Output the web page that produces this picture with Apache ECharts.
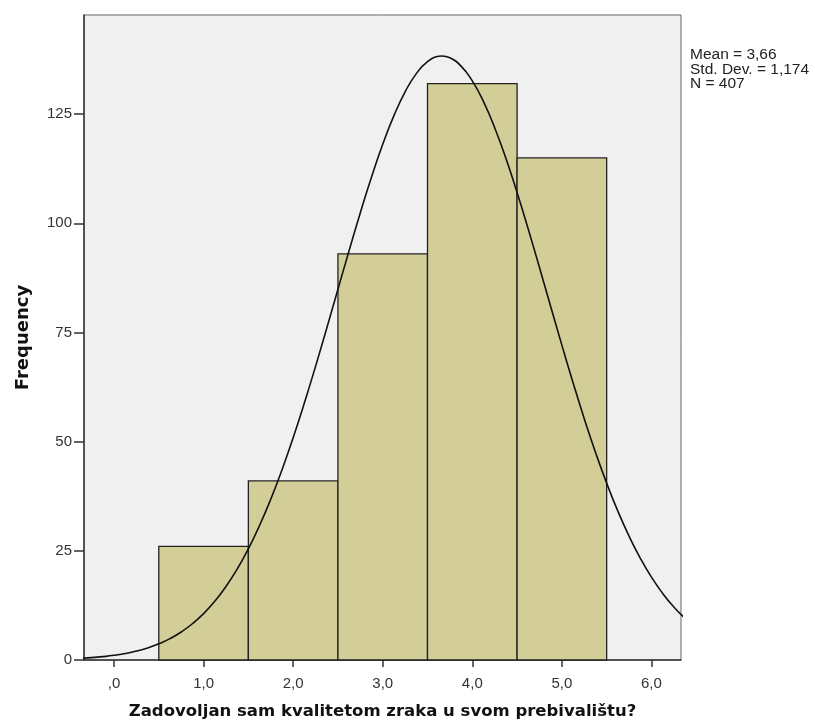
<!DOCTYPE html>
<html>
<head>
<meta charset="utf-8">
<script src="https://cdn.jsdelivr.net/npm/echarts@6/dist/echarts.min.js"></script>
<style>html,body{margin:0;padding:0;background:#fff}#c{width:815px;height:726px}</style>
</head>
<body>
<div id="c"></div>
<script>
// Histogram data
const binCenters = [1, 2, 3, 4, 5];
const frequencies = [26, 41, 93, 132, 115];
// Normal curve (x, frequency)
const curveX = [-0.375, -0.25, -0.125, 0, 0.125, 0.25, 0.375, 0.5, 0.625, 0.75, 0.875, 1.0, 1.125, 1.25, 1.375, 1.5, 1.625, 1.75, 1.875, 2.0, 2.125, 2.25, 2.375, 2.5, 2.625, 2.75, 2.875, 3.0, 3.125, 3.25, 3.375, 3.5, 3.625, 3.66, 3.75, 3.875, 4.0, 4.125, 4.25, 4.375, 4.5, 4.625, 4.75, 4.875, 5.0, 5.125, 5.25, 5.375, 5.5, 5.625, 5.75, 5.875, 6.0, 6.125, 6.25, 6.375];
const curveY = [0.38, 0.54, 0.77, 1.07, 1.49, 2.04, 2.76, 3.70, 4.89, 6.41, 8.30, 10.62, 13.44, 16.82, 20.81, 25.45, 30.79, 36.82, 43.53, 50.89, 58.83, 67.24, 75.98, 84.89, 93.77, 102.42, 110.60, 118.09, 124.66, 130.12, 134.28, 137.02, 138.24, 138.30, 137.89, 136.00, 132.62, 127.87, 121.89, 114.89, 107.07, 98.65, 89.87, 80.95, 72.10, 63.49, 55.27, 47.58, 40.50, 34.08, 28.36, 23.33, 18.97, 15.26, 12.13, 9.54];
// Tick labels
const xTicks = [0, 1, 2, 3, 4, 5, 6];
const xTickLabels = [',0', '1,0', '2,0', '3,0', '4,0', '5,0', '6,0'];
const yTicks = [0, 25, 50, 75, 100, 125];
const statsLines = ['Mean = 3,66', 'Std. Dev. = 1,174', 'N = 407'];

const chart = echarts.init(document.getElementById('c'));
const labelFont = {fontFamily: 'Liberation Sans, Arial, sans-serif', fontSize: 15, color: '#333'};
chart.setOption({
  animation: false,
  backgroundColor: '#fff',
  grid: {left: 84, top: 15, right: 134, bottom: 66, show: true, backgroundColor: '#f0f0f0', borderColor: '#666', borderWidth: 1},
  xAxis: {
    type: 'value', min: -0.335, max: 6.33,
    name: 'Zadovoljan sam kvalitetom zraka u svom prebivalištu?',
    nameLocation: 'middle', nameGap: 43,
    nameTextStyle: {fontFamily: 'DejaVu Sans, sans-serif', fontWeight: 'bold', fontSize: 16.5, color: '#111'},
    axisLine: {show: true, onZero: false, lineStyle: {color: '#333', width: 1.5}},
    axisTick: {show: true, length: 7, customValues: xTicks, lineStyle: {color: '#333', width: 1.5}},
    axisLabel: Object.assign({customValues: xTicks, margin: 16, formatter: v => xTickLabels[xTicks.indexOf(Math.round(v))]}, labelFont),
    splitLine: {show: false}
  },
  yAxis: {
    type: 'value', min: 0, max: 147.7,
    name: 'Frequency', nameLocation: 'middle', nameGap: 52, nameRotate: 90,
    nameTextStyle: {fontFamily: 'DejaVu Sans, sans-serif', fontWeight: 'bold', fontSize: 18, color: '#111'},
    axisLine: {show: true, onZero: false, lineStyle: {color: '#333', width: 1.5}},
    axisTick: {show: true, length: 10, customValues: yTicks, lineStyle: {color: '#333', width: 1.5}},
    axisLabel: Object.assign({customValues: yTicks, margin: 12}, labelFont),
    splitLine: {show: false}
  },
  graphic: [{
    type: 'text', left: 690, top: 47,
    style: {text: statsLines.join('\n'), font: '15.5px "Liberation Sans", Arial, sans-serif', fill: '#222', lineHeight: 14.5}
  }],
  series: [{
    type: 'custom',
    data: binCenters.map((c, i) => [c, frequencies[i]]),
    renderItem: function (params, api) {
      const x = api.value(0), y = api.value(1);
      const p0 = api.coord([x - 0.5, y]);
      const p1 = api.coord([x + 0.5, 0]);
      return {type: 'rect', shape: {x: p0[0], y: p0[1], width: p1[0] - p0[0], height: p1[1] - p0[1]},
        style: {fill: '#d3ce98', stroke: '#222', lineWidth: 1.3}};
    },
    z: 2
  }, {
    type: 'line',
    data: curveX.map((x, i) => [x, curveY[i]]),
    smooth: true, showSymbol: false, clip: true,
    lineStyle: {color: '#111', width: 1.6},
    z: 3
  }]
});
</script>
</body>
</html>
